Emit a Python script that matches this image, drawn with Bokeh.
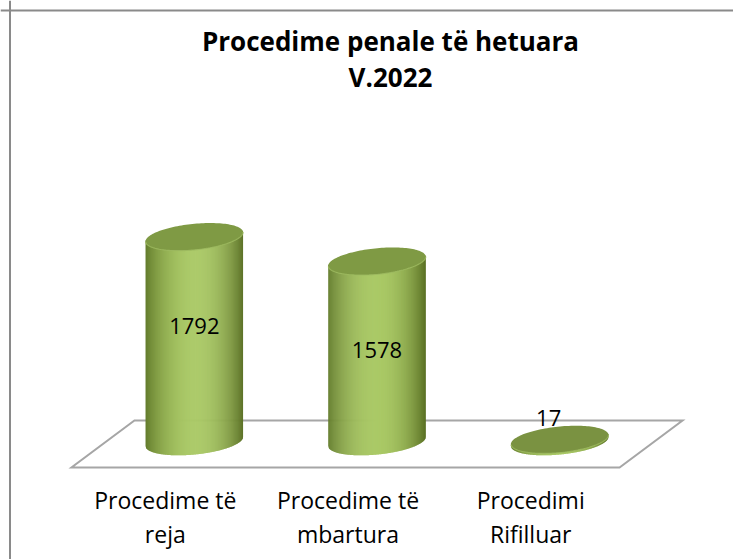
import numpy as np
from bokeh.plotting import figure
from bokeh.models import Range1d, Span
from bokeh.embed import file_html
from bokeh.resources import INLINE
from bokeh.core.properties import value

# ---- data ----
title_lines = ["Procedime penale të hetuara", "V.2022"]
categories = ["Procedime të\nreja", "Procedime të\nmbartura", "Procedimi\nRifilluar"]
values = [1792, 1578, 17]

# ---- layout constants (pixels) ----
W, H = 733, 559
PX_X = 182.7      # px per category
PX_Y = 0.1142     # px per value unit
X0 = 193.8        # px of first category centre (from left)
YB = 441.0        # px of baseline (from top)

def dx(px):
    return px / PX_X

def dy(px):
    return px / PX_Y

p = figure(width=W, height=H, output_backend="svg", toolbar_location=None,
           x_range=Range1d(-X0 / PX_X, (W - X0) / PX_X),
           y_range=Range1d(-(H - YB) / PX_Y, YB / PX_Y),
           min_border=0)
p.axis.visible = False
p.grid.visible = False
p.outline_line_color = None
p.background_fill_color = "white"
p.border_fill_color = "white"

# chart border (top & left visible)
p.add_layout(Span(location=dx(9.5 - X0), dimension="height",
                  line_color="#8a8a8a", line_width=2))
p.add_layout(Span(location=dy(YB - 10), dimension="width",
                  line_color="#8a8a8a", line_width=2))

# ---- floor ----
n = len(values)
fmid = dy(-2.5)
depth_y, depth_x = dy(23.5), dx(31.5)
fx = [-0.5 + depth_x, n - 0.5 + depth_x, n - 0.5 - depth_x, -0.5 - depth_x]
fy = [fmid + depth_y, fmid + depth_y, fmid - depth_y, fmid - depth_y]
p.patch(fx, fy, fill_alpha=0, line_color="#a6a6a6", line_width=2, line_join="miter")

# ---- cylinders ----
RX, RY, ANG = 49.0, 13.0, 0.10
ca, sa = np.cos(ANG), np.sin(ANG)
A = sa**2 / RX**2 + ca**2 / RY**2

def chord(u):
    B = 2 * u * (ca * sa / RX**2 - sa * ca / RY**2)
    C = u**2 * (ca**2 / RX**2 + sa**2 / RY**2) - 1
    disc = np.clip(B**2 - 4 * A * C, 0, None)
    mid = -B / (2 * A)
    half = np.sqrt(disc) / (2 * A)
    return mid - half, mid, mid + half

xmax = np.sqrt(RX**2 * ca**2 + RY**2 * sa**2)
dark_l = np.array([98, 123, 43])
dark_r = np.array([88, 110, 34])
light = np.array([170, 201, 102])

def shade(s):
    f = (1 - s**2) ** 0.9
    dark = dark_l if s < 0 else dark_r
    c = dark + (light - dark) * f
    return "#%02x%02x%02x" % tuple(int(round(v)) for v in c)

t = np.linspace(0, 2 * np.pi, 140)
ex = RX * np.cos(t) * ca - RY * np.sin(t) * sa
ey = RX * np.cos(t) * sa + RY * np.sin(t) * ca

NS = 98
edges = np.linspace(-xmax, xmax, NS + 1)
for i, v in enumerate(values):
    top_px = v * PX_Y
    xs, ys, cols = [], [], []
    for k in range(NS):
        u0 = edges[k]
        u1 = min(edges[k + 1] + 0.6, xmax)   # slight overlap hides seams
        _, mid0, _ = chord(u0)
        _, mid1, _ = chord(u1)
        uu = np.linspace(u0, u1, 4)
        lows = [chord(u)[0] for u in uu]
        px_x = list(uu) + [u1, u0]
        px_y = lows + [top_px + mid1 + 1, top_px + mid0 + 1]
        xs.append([i + dx(a) for a in px_x])
        ys.append([dy(b) for b in px_y])
        cols.append(shade((edges[k] + edges[k + 1]) / 2 / xmax))
    p.patches(xs, ys, fill_color=cols, line_color=None)
    # top ellipse
    top_fill = "#7f9a44" if v * PX_Y > 10 else "#7a9241"
    p.patch([i + dx(a) for a in ex], [dy(top_px + b) for b in ey],
            fill_color=top_fill, line_color=None)
    # lighter front rim
    sel = t > np.pi
    p.line([i + dx(a) for a in ex[sel]], [dy(top_px + b) for b in ey[sel]],
           line_color="#9fbb62", line_width=1.2, line_alpha=0.8)

# ---- value labels ----
lab_x, lab_y = [], []
for i, v in enumerate(values):
    if v * PX_Y > 120:
        lab_x.append(i)
        lab_y.append(v - dy(89))
    else:
        lab_x.append(i - dx(11))
        lab_y.append(v + dy(22))
p.text(lab_x, lab_y, text=[str(v) for v in values], text_font=value("Open Sans"),
       text_font_size="22px", text_color="black", text_align="center",
       text_baseline="middle")

# ---- category labels ----
p.text([i - dx(29) for i in range(n)], [dy(-75.5)] * n, text=categories,
       text_font=value("Open Sans"), text_font_size="23px", text_color="black",
       text_align="center", text_baseline="middle", text_line_height=1.05)

# ---- title ----
p.text([dx(390 - X0)], [dy(YB - 58)], text=["\n".join(title_lines)],
       text_font=value("Open Sans"), text_font_style="bold",
       text_font_size="26px", text_color="black", text_align="center",
       text_baseline="middle", text_line_height=1.0)

open("out.html", "w").write(file_html(p, INLINE))
